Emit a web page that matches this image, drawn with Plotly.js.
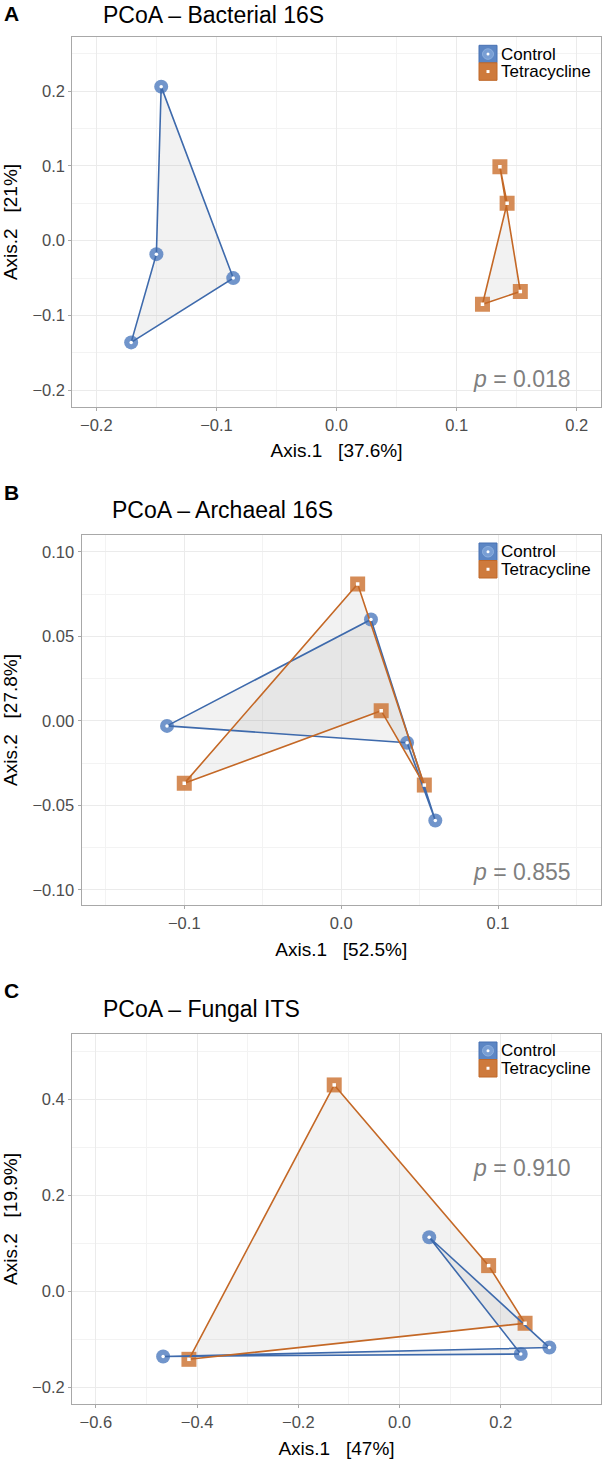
<!DOCTYPE html>
<html>
<head>
<meta charset="utf-8">
<script src="https://cdn.plot.ly/plotly-3.0.1.min.js"></script>
<style>html,body{margin:0;padding:0;background:#fff;}#chart{width:603px;height:1459px;}</style>
</head>
<body>
<div id="chart"></div>
<script>
// ---- Data ----
const groups = ["Control", "Tetracycline"];
const panelTitles = ["PCoA – Bacterial 16S", "PCoA – Archaeal 16S", "PCoA – Fungal ITS"];
const panelLetters = ["A", "B", "C"];
const xTitles = ["Axis.1   [37.6%]", "Axis.1   [52.5%]", "Axis.1   [47%]"];
const yTitles = ["Axis.2   [21%]", "Axis.2   [27.8%]", "Axis.2   [19.9%]"];
const pValues = ["0.018", "0.855", "0.910"];

// Panel A – Bacterial 16S
const ctrlA_x = [-0.146, -0.150, -0.171, -0.086];
const ctrlA_y = [0.206, -0.018, -0.136, -0.050];
const tetA_x = [0.136, 0.142, 0.1215, 0.153];
const tetA_y = [0.099, 0.050, -0.085, -0.068];
// Panel B – Archaeal 16S
const ctrlB_x = [-0.111, 0.019, 0.060, 0.042];
const ctrlB_y = [-0.003, 0.060, -0.059, -0.013];
const tetB_x = [0.0105, -0.100, 0.0255, 0.053];
const tetB_y = [0.081, -0.037, 0.006, -0.038];
// Panel C – Fungal ITS
const ctrlC_x = [-0.467, 0.2395, 0.0586, 0.296];
const ctrlC_y = [-0.135, -0.130, 0.113, -0.1165];
const tetC_x = [-0.129, 0.176, 0.248, -0.416];
const tetC_y = [0.430, 0.054, -0.066, -0.141];

// Minor grid positions (between major ticks)
const minorXA = [-0.15, -0.05, 0.05, 0.15];
const minorYA = [-0.15, -0.05, 0.05, 0.15, 0.25];
const minorXB = [-0.15, -0.05, 0.05, 0.15];
const minorYB = [-0.075, -0.025, 0.025, 0.075];
const minorXC = [-0.5, -0.3, -0.1, 0.1, 0.3];
const minorYC = [-0.1, 0.1, 0.3, 0.5];

// ---- Styling / layout ----
const W = 603, H = 1459;
const FONT = "Liberation Sans, Arial, Helvetica, sans-serif";
const blueLine = "rgb(62,106,172)", blueMark = "rgba(88,130,194,0.85)";
const orangeLine = "rgb(196,104,38)", orangeMark = "rgba(206,120,58,0.85)";

const panels = [
  {top: 37.3, bottom: 406.7, left: 72.3, right: 600.8, xr: [-0.22, 0.22], yr: [-0.222, 0.272], xd: 0.1, yd: 0.1, xf: ".1f", yf: ".1f", pY: 379,
   c: [ctrlA_x, ctrlA_y], t: [tetA_x, tetA_y], mx: minorXA, my: minorYA, ly: 12.3},
  {top: 535, bottom: 905, left: 81.5, right: 601, xr: [-0.1655, 0.1656], yr: [-0.109, 0.110], xd: 0.1, yd: 0.05, xf: ".1f", yf: ".2f", pY: 871.7,
   c: [ctrlB_x, ctrlB_y], t: [tetB_x, tetB_y], mx: minorXB, my: minorYB, ly: 492},
  {top: 1034, bottom: 1404, left: 72, right: 601, xr: [-0.647, 0.398], yr: [-0.234, 0.536], xd: 0.2, yd: 0.2, xf: ".1f", yf: ".1f", pY: 1168,
   c: [ctrlC_x, ctrlC_y], t: [tetC_x, tetC_y], mx: minorXC, my: minorYC, ly: 990}
];

const px = x => x / W;
const py = y => 1 - y / H;
const close = a => a.concat([a[0]]);

const traces = [];
const layout = {
  width: W, height: H,
  margin: {l: 0, r: 0, t: 0, b: 0},
  paper_bgcolor: "#ffffff", plot_bgcolor: "#ffffff",
  showlegend: false,
  font: {family: FONT, color: "#000"},
  annotations: [], shapes: []
};

panels.forEach((p, i) => {
  const n = i === 0 ? "" : String(i + 1);
  const xa = "x" + n, ya = "y" + n;
  const sets = [
    {d: p.c, line: blueLine, mark: blueMark, sym: "circle", size: 14, name: groups[0]},
    {d: p.t, line: orangeLine, mark: orangeMark, sym: "square", size: 15, name: groups[1]}
  ];
  sets.forEach(s => traces.push({
    x: close(s.d[0]), y: close(s.d[1]), xaxis: xa, yaxis: ya, type: "scatter", mode: "lines",
    fill: "toself", fillcolor: "rgba(128,128,128,0.1)", line: {width: 0, color: "rgba(0,0,0,0)"},
    hoverinfo: "skip", name: s.name
  }));
  sets.forEach(s => traces.push({
    x: s.d[0], y: s.d[1], xaxis: xa, yaxis: ya, type: "scatter", mode: "markers",
    marker: {symbol: s.sym, size: s.size, color: s.mark, line: {width: 0}}, name: s.name
  }));
  sets.forEach(s => traces.push({
    x: close(s.d[0]), y: close(s.d[1]), xaxis: xa, yaxis: ya, type: "scatter", mode: "lines",
    line: {width: 1.6, color: s.line}, hoverinfo: "skip", name: s.name
  }));
  sets.forEach(s => traces.push({
    x: s.d[0], y: s.d[1], xaxis: xa, yaxis: ya, type: "scatter", mode: "markers",
    marker: {symbol: s.sym, size: 3.5, color: "#ffffff", line: {width: 0}}, hoverinfo: "skip", name: s.name
  }));

  const common = {
    showline: true, mirror: true, linecolor: "#a8a8a8", linewidth: 1,
    showgrid: true, gridcolor: "#ebebeb", gridwidth: 1,
    zeroline: false, ticks: "outside", ticklen: 3, tickcolor: "#a8a8a8", tickwidth: 1,
    tickfont: {family: FONT, size: 16.5, color: "#4d4d4d"}, automargin: false
  };
  layout["xaxis" + n] = Object.assign({}, common, {
    domain: [px(p.left), px(p.right)], anchor: ya, range: p.xr, tick0: 0, dtick: p.xd, tickformat: p.xf,
    minor: {showgrid: true, gridcolor: "#f3f3f3", gridwidth: 1, tickmode: "array", tickvals: p.mx, ticks: ""},
    title: {text: xTitles[i].replace(/ /g, "\u00a0"), font: {family: FONT, size: 19, color: "#000"}, standoff: 11}
  });
  layout["yaxis" + n] = Object.assign({}, common, {
    domain: [py(p.bottom), py(p.top)], anchor: xa, range: p.yr, tick0: 0, dtick: p.yd, tickformat: p.yf,
    minor: {showgrid: true, gridcolor: "#f3f3f3", gridwidth: 1, tickmode: "array", tickvals: p.my, ticks: ""},
    title: {text: yTitles[i].replace(/ /g, "\u00a0"), font: {family: FONT, size: 19, color: "#000"}, standoff: 10}
  });

  const first = i === 0;
  layout.annotations.push({
    xref: "paper", yref: "paper", x: px(2), y: first ? py(0) : py(p.ly),
    xanchor: "left", yanchor: first ? "top" : "middle", showarrow: false,
    text: "<b>" + panelLetters[i] + "</b>", font: {family: FONT, size: 21, color: "#000"}
  });
  layout.annotations.push({
    xref: "paper", yref: "paper", x: px(p.left + 28.5), y: first ? py(0) : py(p.top - 25.5),
    xanchor: "left", yanchor: first ? "top" : "middle", showarrow: false,
    text: panelTitles[i], font: {family: FONT, size: 23, color: "#000"}
  });
  layout.annotations.push({
    xref: "paper", yref: "paper", x: px(573), y: py(p.pY),
    xanchor: "right", yanchor: "middle", showarrow: false,
    text: "<i>p</i> = " + pValues[i], font: {family: FONT, size: 23, color: "#7f7f7f"}
  });
  const kx0 = 479, kx1 = 497;
  const rows = [p.top + 8, p.top + 25.5, p.top + 43];
  layout.shapes.push({type: "rect", xref: "paper", yref: "paper", x0: px(kx0), x1: px(kx1), y0: py(rows[0]), y1: py(rows[1]),
    fillcolor: "rgb(92,134,196)", line: {color: "rgb(70,112,178)", width: 1}});
  layout.shapes.push({type: "circle", xref: "paper", yref: "paper", x0: px(kx0 + 3.5), x1: px(kx1 - 3.5), y0: py(rows[0] + 3.5), y1: py(rows[1] - 3.5),
    fillcolor: "rgb(120,158,212)", line: {color: "rgb(140,175,222)", width: 1}});
  layout.shapes.push({type: "circle", xref: "paper", yref: "paper", x0: px(486.5), x1: px(489.5), y0: py((rows[0] + rows[1]) / 2 - 1.5), y1: py((rows[0] + rows[1]) / 2 + 1.5),
    fillcolor: "#ffffff", line: {width: 0}});
  layout.shapes.push({type: "rect", xref: "paper", yref: "paper", x0: px(kx0), x1: px(kx1), y0: py(rows[1]), y1: py(rows[2]),
    fillcolor: "rgb(206,122,60)", line: {color: "rgb(192,104,40)", width: 1}});
  layout.shapes.push({type: "rect", xref: "paper", yref: "paper", x0: px(486.5), x1: px(489.5), y0: py((rows[1] + rows[2]) / 2 - 1.5), y1: py((rows[1] + rows[2]) / 2 + 1.5),
    fillcolor: "#ffffff", line: {width: 0}});
  groups.forEach((g, k) => layout.annotations.push({
    xref: "paper", yref: "paper", x: px(499), y: py((rows[k] + rows[k + 1]) / 2),
    xanchor: "left", yanchor: "middle", showarrow: false, text: g,
    font: {family: FONT, size: 17, color: "#000"}
  }));
});

Plotly.newPlot("chart", traces, layout, {displayModeBar: false, staticPlot: true});
</script>
</body>
</html>
